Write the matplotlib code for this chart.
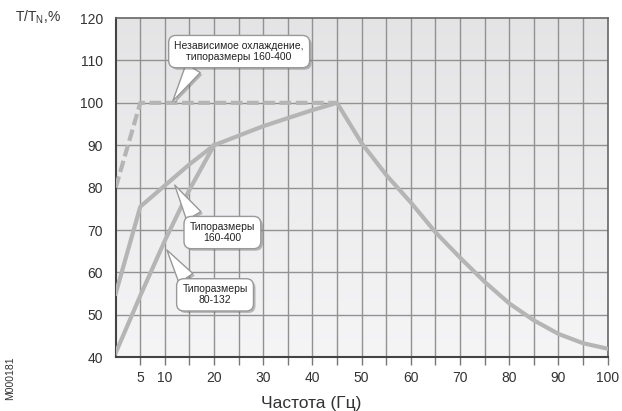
import numpy as np
import matplotlib
matplotlib.use('Agg')
import matplotlib.pyplot as plt
import matplotlib.patheffects as pe

plt.rcParams['font.family'] = ['Liberation Sans', 'DejaVu Sans']
plt.rcParams['mathtext.fontset'] = 'custom'
plt.rcParams['mathtext.rm'] = 'Liberation Sans'

# data (frequency in Hz, torque in % of nominal)
freq_indep = [0, 5, 45]
torque_indep = [80, 100, 100]

freq_160 = [0, 5, 10, 15, 20]
torque_160 = [55, 75.5, 80.5, 85.5, 90]

freq_80 = [0, 5, 10, 15, 20]
torque_80 = [41, 54.5, 67.5, 79.5, 90]

freq_common = [20, 30, 40, 45, 50, 55, 60, 65, 70, 75, 80, 85, 90, 95, 100]
torque_common = [90, 94.5, 98.3, 100, 90.5, 83, 76.5, 69.5, 63.5, 57.8, 52.7, 48.7, 45.5, 43.3, 42]

xtick_labels = [5, 10, 20, 30, 40, 50, 60, 70, 80, 90, 100]
ytick_values = [40, 50, 60, 70, 80, 90, 100, 110, 120]

line_col = '#b5b5b5'
grid_col = '#929292'
text_col = '#333333'

fig = plt.figure(figsize=(6.22, 4.11), dpi=100)
ax = fig.add_axes([0.186, 0.131, 0.7907, 0.825])

# light gradient background of the plot area (brighter at the bottom)
top = np.array([0.895, 0.895, 0.90])
bottom = np.array([0.96, 0.96, 0.965])
t = np.linspace(0, 1, 100).reshape(-1, 1, 1)
grad = bottom + (top - bottom) * t
ax.imshow(grad, extent=[0, 100, 40, 120], aspect='auto', origin='lower', zorder=0)

ax.set_xlim(0, 100)
ax.set_ylim(40, 120)

# grid
for x in range(5, 100, 5):
    ax.axvline(x, color=grid_col, lw=1.0, zorder=1)
for y in range(50, 120, 10):
    ax.axhline(y, color=grid_col, lw=1.0, zorder=1)

lw = 3.0
ax.plot(freq_indep, torque_indep, color=line_col, lw=lw, ls=(0, (2.8, 1.1)),
        solid_capstyle='butt', zorder=3)
ax.plot(freq_160, torque_160, color=line_col, lw=lw, zorder=3, solid_joinstyle='round')
ax.plot(freq_80, torque_80, color=line_col, lw=lw, zorder=3, solid_joinstyle='round')
ax.plot(freq_common, torque_common, color=line_col, lw=lw, zorder=3, solid_joinstyle='round')

# ticks
ax.set_xticks(np.arange(5, 101, 5))
ax.set_xticklabels([str(v) if v in xtick_labels else '' for v in range(5, 101, 5)])
ax.tick_params(axis='x', direction='out', length=6, width=1.0, color='#777777',
               pad=4, labelsize=10, labelcolor=text_col)
ax.set_yticks(ytick_values)
ax.set_yticklabels([str(v) for v in ytick_values])
ax.tick_params(axis='y', length=0, pad=9, labelsize=10, labelcolor=text_col)

for side in ['left', 'bottom']:
    ax.spines[side].set_color('#444444')
    ax.spines[side].set_linewidth(1.5)
for side in ['right', 'top']:
    ax.spines[side].set_color('#666666')
    ax.spines[side].set_linewidth(1.2)

# axis titles
fig.text(0.024, 0.958, r'T/T$_\mathrm{N}$,%', fontsize=10, color=text_col,
         ha='left', va='center')
fig.text(0.5, 0.018, 'Частота (Гц)', fontsize=12.5, color=text_col,
         ha='center', va='center')
fig.text(0.016, 0.08, 'M000181', fontsize=7.5, color=text_col, rotation=90,
         ha='center', va='center')

# callouts
shadow = [pe.SimplePatchShadow(offset=(1.5, -1.5), alpha=0.35), pe.Normal()]
box = dict(boxstyle='round,pad=0.55,rounding_size=0.7', fc='white', ec='#999999', lw=1.0)

callouts = [
    ('Независимое охлаждение,\nтипоразмеры 160-400', (11.6, 100.4), (25.1, 112.1), (0.18, 0.05)),
    ('Типоразмеры\n160-400', (12.0, 80.6), (21.7, 69.4), (0.14, 0.9)),
    ('Типоразмеры\n80-132', (10.4, 65.3), (20.2, 54.7), (0.14, 0.9)),
]
for txt, tip, pos, rp in callouts:
    a = ax.annotate(txt, xy=tip, xytext=pos, ha='center', va='center',
                    fontsize=7.5, color='#222222', linespacing=1.1,
                    bbox=box,
                    arrowprops=dict(arrowstyle='wedge,tail_width=1.6', fc='white',
                                    ec='#999999', lw=1.0, shrinkA=0, shrinkB=0,
                                    relpos=rp),
                    zorder=5)
    a.get_bbox_patch().set_path_effects(shadow)
    a.arrow_patch.set_path_effects(shadow)

fig.savefig('out.png', dpi=100)
